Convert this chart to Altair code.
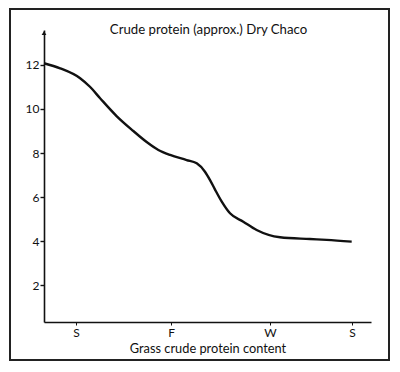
import altair as alt
import pandas as pd

# season position (months from start of spring) and crude protein (%)
months = [-1.01, -0.50, 0.13, 0.44, 0.76, 1.28, 1.81, 2.23, 2.60, 2.97, 3.49, 3.81,
          4.07, 4.23, 4.38, 4.60, 4.86, 5.28, 5.70, 6.44, 7.38, 7.91, 8.70]
protein = [12.08, 11.85, 11.40, 11.01, 10.49, 9.68, 9.0, 8.50, 8.14, 7.91, 7.68, 7.53,
           7.15, 6.77, 6.36, 5.79, 5.26, 4.88, 4.50, 4.17, 4.09, 4.05, 3.97]
season_ticks = [0, 3, 6.12, 8.71]
season_labels = ["S", "F", "W", "S"]
y_ticks = [2, 4, 6, 8, 10, 12]
title_text = ["Crude protein (approx.) Dry Chaco"]

df = pd.DataFrame({"m": months, "p": protein})
FONT = "Lato"
INK = "#111111"

label_expr = " : ".join(
    [f"abs(datum.value - {v}) < 0.01 ? '{l}'" for v, l in zip(season_ticks, season_labels)]
) + " : ''"

x_enc = alt.X("m:Q", scale=alt.Scale(domain=[-1.01, 9.31], nice=False, zero=False),
              axis=alt.Axis(values=season_ticks, labelExpr=label_expr, title="Grass crude protein content",
                            grid=False, tickSize=3, tickColor=INK, domainColor=INK, domainWidth=1.6,
                            labelFont=FONT, labelFontSize=12, labelColor=INK, labelPadding=2,
                            titleFont=FONT, titleFontSize=12.8, titleFontWeight="normal", titleColor=INK,
                            titlePadding=4))
y_enc = alt.Y("p:Q", scale=alt.Scale(domain=[0.32, 13.59], nice=False, zero=False),
              axis=alt.Axis(values=y_ticks, title=None, grid=False, tickSize=4, tickColor=INK,
                            domainColor=INK, domainWidth=1.6, tickWidth=1.4,
                            labelFont=FONT, labelFontSize=12, labelColor=INK, labelPadding=1))

line = alt.Chart(df).mark_line(color=INK, strokeWidth=2.4, interpolate="monotone").encode(x=x_enc, y=y_enc)

one = pd.DataFrame({"a": [0]})
frame = alt.Chart(one).mark_rect(filled=False, stroke="#222222", strokeWidth=2, clip=False).encode(
    x=alt.value(-34), x2=alt.value(345), y=alt.value(-21), y2=alt.value(330))
arrow = alt.Chart(one).mark_point(shape="triangle-up", filled=True, color=INK, size=22, opacity=1, clip=False).encode(
    x=alt.value(0), y=alt.value(3))
title = alt.Chart(pd.DataFrame({"t": title_text})).mark_text(
    font=FONT, fontSize=13.2, color=INK, align="center", baseline="middle").encode(
    text="t:N", x=alt.value(164.5), y=alt.value(0))

chart = alt.layer(frame, line, arrow, title).properties(
    width=327, height=292,
    autosize="none",
    padding={"left": 36, "top": 22, "right": 19, "bottom": 39},
).configure_view(stroke=None)

chart.save("out.html", embed_options={"renderer": "svg", "actions": False})
